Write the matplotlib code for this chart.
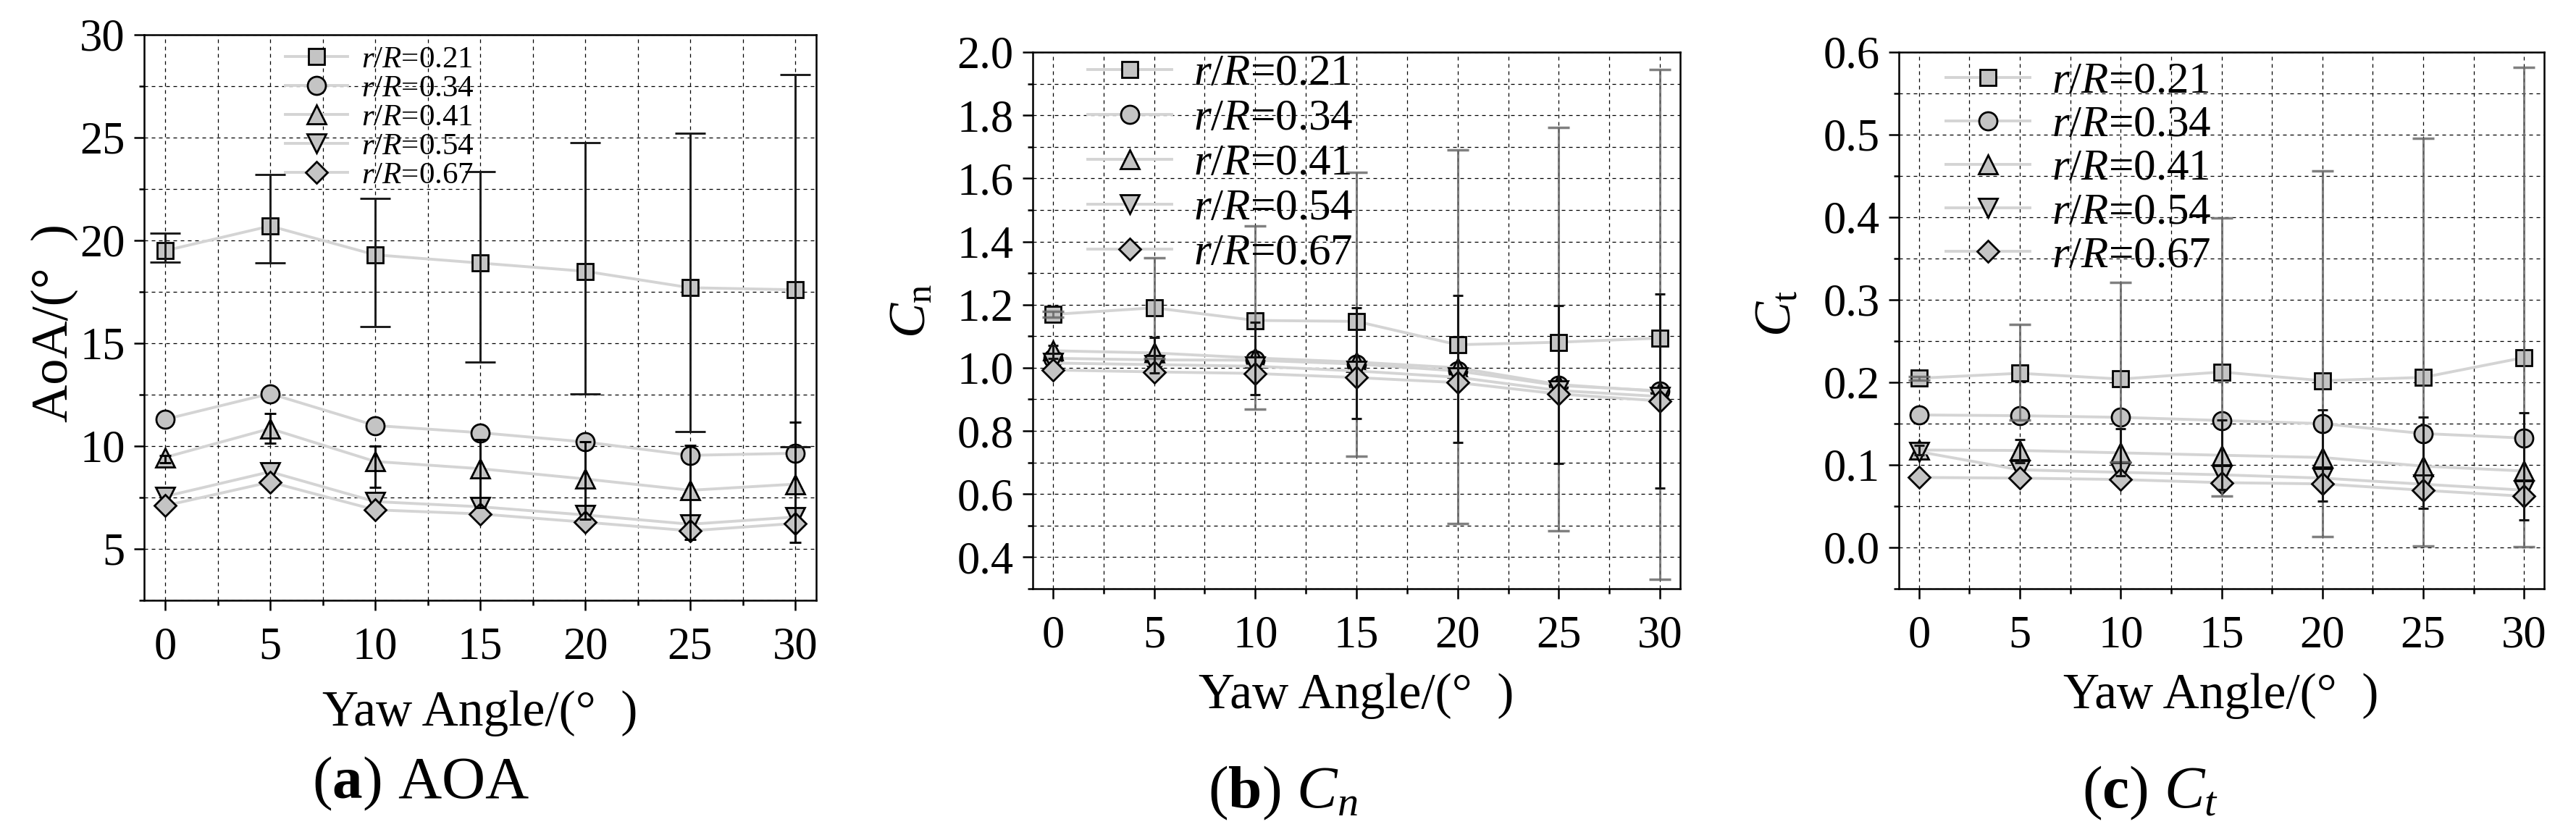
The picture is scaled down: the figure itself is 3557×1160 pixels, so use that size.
import matplotlib
matplotlib.use("Agg")
import matplotlib.pyplot as plt
from matplotlib.ticker import MultipleLocator, FormatStrFormatter

# yaw angles and radial stations
yaw = [0, 5, 10, 15, 20, 25, 30]
labels = [r'$r$/$R$=0.21', r'$r$/$R$=0.34', r'$r$/$R$=0.41',
          r'$r$/$R$=0.54', r'$r$/$R$=0.67']

# (a) angle of attack
aoa_021 = [19.5, 20.7, 19.3, 18.9, 18.5, 17.7, 17.6]
aoa_034 = [11.3, 12.55, 11.0, 10.65, 10.2, 9.55, 9.65]
aoa_041 = [9.45, 10.85, 9.25, 8.9, 8.4, 7.85, 8.15]
aoa_054 = [7.55, 8.75, 7.3, 7.05, 6.65, 6.2, 6.55]
aoa_067 = [7.1, 8.25, 6.9, 6.7, 6.3, 5.88, 6.24]
aoa_021_lo = [18.95, 18.9, 15.8, 14.1, 12.55, 10.7, 9.97]
aoa_021_hi = [20.35, 23.2, 22.05, 23.35, 24.75, 25.2, 28.05]
aoa_041_lo = [9.2, 10.15, 8.0, 7.0, 6.45, 5.45, 5.3]
aoa_041_hi = [9.55, 11.6, 10.0, 10.3, 10.2, 10.05, 11.15]

# (b) normal force coefficient
cn_021 = [1.169, 1.19, 1.15, 1.147, 1.073, 1.081, 1.094]
cn_034 = [1.03, 1.025, 1.024, 1.012, 0.99, 0.944, 0.927]
cn_041 = [1.054, 1.047, 1.031, 1.018, 1.0, 0.947, 0.925]
cn_054 = [1.015, 1.01, 1.005, 0.99, 0.97, 0.928, 0.909]
cn_067 = [0.993, 0.987, 0.982, 0.969, 0.953, 0.917, 0.895]
cn_021_lo = [1.16, 1.03, 0.869, 0.72, 0.507, 0.483, 0.329]
cn_021_hi = [1.178, 1.348, 1.449, 1.62, 1.69, 1.762, 1.946]
cn_041_lo = [1.03, 0.983, 0.915, 0.839, 0.763, 0.697, 0.62]
cn_041_hi = [1.07, 1.095, 1.145, 1.19, 1.229, 1.198, 1.233]

# (c) tangential force coefficient
ct_021 = [0.205, 0.211, 0.204, 0.2125, 0.202, 0.206, 0.23]
ct_034 = [0.1605, 0.1596, 0.1576, 0.1538, 0.15, 0.138, 0.1325]
ct_041 = [0.118, 0.1175, 0.1146, 0.1117, 0.109, 0.0985, 0.0926]
ct_054 = [0.116, 0.094, 0.091, 0.088, 0.084, 0.0766, 0.0694]
ct_067 = [0.0848, 0.084, 0.0823, 0.0785, 0.077, 0.0693, 0.062]
ct_021_lo = [0.203, 0.154, 0.1035, 0.062, 0.013, 0.002, 0.001]
ct_021_hi = [0.207, 0.27, 0.321, 0.399, 0.456, 0.496, 0.582]
ct_041_lo = [0.112, 0.103, 0.087, 0.07, 0.056, 0.047, 0.033]
ct_041_hi = [0.124, 0.131, 0.1436, 0.154, 0.167, 0.158, 0.163]

plt.rcParams['font.family'] = 'Liberation Serif'
plt.rcParams['mathtext.fontset'] = 'custom'
plt.rcParams['mathtext.rm'] = 'Liberation Serif'
plt.rcParams['mathtext.it'] = 'Liberation Serif:italic'
plt.rcParams['mathtext.bf'] = 'Liberation Serif:bold'

W, H = 3557, 1160
LINE = '#d4d4d4'
FILL = '#c4c4c4'
markers = ['s', 'o', '^', 'v', 'D']
msizes = [16, 18, 19, 19, 15]

fig = plt.figure(figsize=(W / 100, H / 100), dpi=100)


def box(l, t, r, b):
    return [l / W, 1 - b / H, (r - l) / W, (b - t) / H]


def draw(ax, series, big, small, big_style, small_style):
    for vals, m, s, lab in zip(series, markers, msizes, labels):
        ax.plot(yaw, vals, '-', color=LINE, lw=2.8, marker=m, ms=s,
                mfc=FILL, mec='k', mew=2, label=lab, zorder=3)
    for (c, lo, hi), st in ((big, big_style), (small, small_style)):
        ax.errorbar(yaw, c, yerr=[[v - l for v, l in zip(c, lo)],
                                  [h - v for v, h in zip(c, hi)]],
                    fmt='none', zorder=4, **st)
    ax.set_xlim(-1, 31)
    ax.xaxis.set_major_locator(MultipleLocator(5))
    ax.xaxis.set_minor_locator(MultipleLocator(2.5))
    ax.set_axisbelow(True)
    ax.grid(True, which='both', color='k', ls=(0, (4, 4)), lw=0.9)
    ax.tick_params(which='both', direction='out', top=False, right=False,
                   width=1.8, labelsize=45)
    ax.tick_params(which='major', length=10)
    ax.tick_params(which='minor', length=5)
    ax.tick_params(axis='x', pad=16)
    ax.tick_params(axis='y', pad=9)
    for sp in ax.spines.values():
        sp.set_linewidth(1.8)


# (a)
ax1 = fig.add_axes(box(199, 48, 1127, 829))
draw(ax1, [aoa_021, aoa_034, aoa_041, aoa_054, aoa_067],
     (aoa_021, aoa_021_lo, aoa_021_hi), (aoa_041, aoa_041_lo, aoa_041_hi),
     dict(ecolor='#1a1a1a', elinewidth=2.1, capsize=15, capthick=2.1),
     dict(ecolor='k', elinewidth=2.1, capsize=5.5, capthick=2.1))
ax1.set_ylim(2.5, 30)
ax1.yaxis.set_major_locator(MultipleLocator(5))
ax1.yaxis.set_minor_locator(MultipleLocator(2.5))
ax1.legend(loc='upper left', bbox_to_anchor=(372 / W, 1 - 41 / H),
           bbox_transform=fig.transFigure, frameon=False, fontsize=31,
           handlelength=2.0, handletextpad=0.45, labelspacing=0.02,
           borderpad=0, numpoints=1)

# (b)
ax2 = fig.add_axes(box(1426, 72, 2320, 813))
draw(ax2, [cn_021, cn_034, cn_041, cn_054, cn_067],
     (cn_021, cn_021_lo, cn_021_hi), (cn_041, cn_041_lo, cn_041_hi),
     dict(ecolor='#6a6a6a', elinewidth=2.2, capsize=11, capthick=2.5, alpha=0.85),
     dict(ecolor='#151515', elinewidth=2.2, capsize=5, capthick=2.2))
ax2.set_ylim(0.3, 2.0)
ax2.yaxis.set_major_locator(MultipleLocator(0.2))
ax2.yaxis.set_minor_locator(MultipleLocator(0.1))
ax2.yaxis.set_major_formatter(FormatStrFormatter('%.1f'))
ax2.legend(loc='upper left', bbox_to_anchor=(1471 / W, 1 - 44 / H),
           bbox_transform=fig.transFigure, frameon=False, fontsize=44,
           handlelength=1.9, handletextpad=0.5, labelspacing=0.1,
           borderpad=0, numpoints=1)

# (c)
ax3 = fig.add_axes(box(2622, 72, 3513, 813))
draw(ax3, [ct_021, ct_034, ct_041, ct_054, ct_067],
     (ct_021, ct_021_lo, ct_021_hi), (ct_041, ct_041_lo, ct_041_hi),
     dict(ecolor='#6a6a6a', elinewidth=2.2, capsize=11, capthick=2.5, alpha=0.85),
     dict(ecolor='#151515', elinewidth=2.2, capsize=5, capthick=2.2))
ax3.set_ylim(-0.05, 0.6)
ax3.yaxis.set_major_locator(MultipleLocator(0.1))
ax3.yaxis.set_minor_locator(MultipleLocator(0.05))
ax3.yaxis.set_major_formatter(FormatStrFormatter('%.1f'))
ax3.legend(loc='upper left', bbox_to_anchor=(2656 / W, 1 - 55 / H),
           bbox_transform=fig.transFigure, frameon=False, fontsize=44,
           handlelength=1.9, handletextpad=0.5, labelspacing=0.07,
           borderpad=0, numpoints=1)

# axis titles and captions
fig.text(663 / W, 1 - 1002 / H, 'Yaw Angle/(°  )', fontsize=50,
         ha='center', va='baseline')
fig.text(1873 / W, 1 - 978 / H, 'Yaw Angle/(°  )', fontsize=50,
         ha='center', va='baseline')
fig.text(3067 / W, 1 - 978 / H, 'Yaw Angle/(°  )', fontsize=50,
         ha='center', va='baseline')
fig.text(75 / W, 1 - 446 / H, 'AoA/(°  )', fontsize=52, rotation=90,
         ha='center', va='center')
fig.text(1260 / W, 1 - 430 / H, r'$C_\mathrm{n}$', fontsize=52, rotation=90,
         ha='center', va='center')
fig.text(2455 / W, 1 - 433 / H, r'$C_\mathrm{t}$', fontsize=52, rotation=90,
         ha='center', va='center')
fig.text(581 / W, 1 - 1102 / H, r'($\mathbf{a}$) AOA', fontsize=60,
         ha='center', va='baseline')
fig.text(1772 / W, 1 - 1115 / H, r'($\mathbf{b}$) $C_n$', fontsize=60,
         ha='center', va='baseline')
fig.text(2969 / W, 1 - 1115 / H, r'($\mathbf{c}$) $C_t$', fontsize=60,
         ha='center', va='baseline')

fig.savefig('out.png', dpi=100, facecolor='white')
